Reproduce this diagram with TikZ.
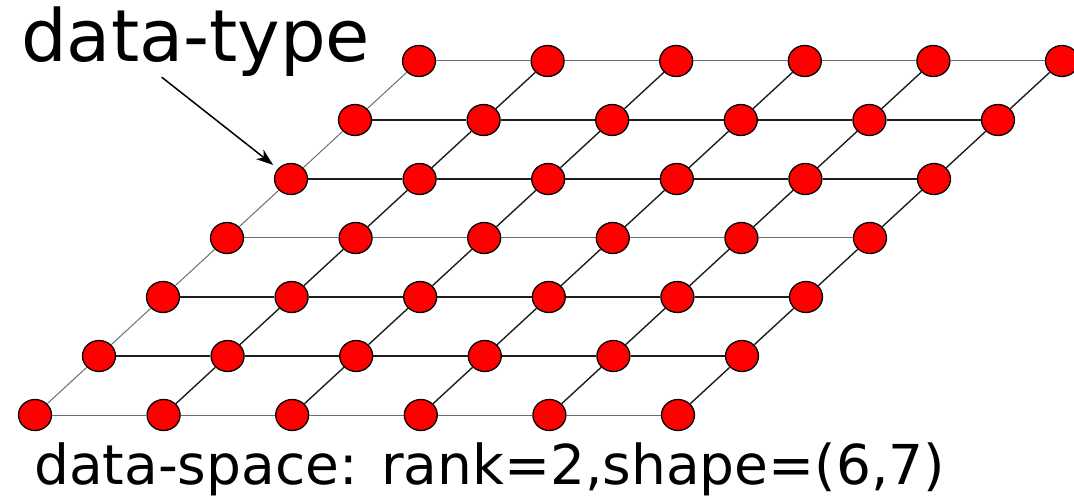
\documentclass[tikz,border=0pt]{standalone}
\usepackage{fontspec}
\setmainfont{DejaVu Sans}
\usetikzlibrary{shapes.geometric, arrows.meta}
\usepackage{xcolor}
\definecolor{dotfill}{RGB}{255,0,0}
\definecolor{linedark}{RGB}{30,30,30}
\definecolor{linelight}{RGB}{110,110,110}

\begin{document}
\begin{tikzpicture}[
    x=1pt, y=-1pt,
    dot/.style     = {ellipse, minimum width=33pt, minimum height=31pt,
                      inner sep=0pt, fill=dotfill, draw=black, line width=1.3pt},
    gridline/.style = {line width=1.4pt, color=linedark},
    faintline/.style = {line width=1pt, color=linelight},
    pointer/.style = {-{Stealth[length=17pt,width=12pt,inset=5pt]}, line width=1.5pt,
                      shorten >=6pt},
    label/.style   = {anchor=base west, inner sep=0pt},
]
\useasboundingbox (0,0) rectangle (1074,497);

% ── Grid points (rank 2: 7 rows, 6 columns) ─────────────────────
\foreach \i in {0,...,6} {
  \foreach \j in {0,...,5} {
    \node[dot] (p-\i-\j) at ({35+64*\i+128.6*\j}, {415-59*\i}) {};
  }
}

% ── Row connectors (rows 0, 3, 6 are lighter) ───────────────────
\foreach \i in {0,...,6} {
  \foreach \j [evaluate=\j as \k using int(\j+1)] in {0,...,4} {
    \ifodd\i \def\rowstyle{gridline}\else
      \ifnum\i=2 \def\rowstyle{gridline}\else
      \ifnum\i=4 \def\rowstyle{gridline}\else
        \def\rowstyle{faintline}\fi\fi\fi
    \ifnum\i=3 \def\rowstyle{faintline}\fi
    \draw[\rowstyle] (p-\i-\j) -- (p-\i-\k);
  }
}

% ── Column connectors (left edge is lighter) ────────────────────
\foreach \i [evaluate=\i as \n using int(\i+1)] in {0,...,5} {
  \foreach \j in {0,...,5} {
    \ifnum\j=0 \def\colstyle{faintline}\else \def\colstyle{gridline}\fi
    \draw[\colstyle] (p-\i-\j) -- (p-\n-\j);
  }
}

% ── Labels ──────────────────────────────────────────────────────
\node[label, font=\fontsize{72}{86}\selectfont] (dtype) at (21,62) {data-type};
\node[label, font=\fontsize{55}{66}\selectfont] (dspace) at (34,484)
    {data-space: rank=2,shape=(6,7)};

% ── Arrow to one element ────────────────────────────────────────
\draw[pointer] ([xshift=-34pt]dtype.south) -- (p-4-0);

\end{tikzpicture}
\end{document}
